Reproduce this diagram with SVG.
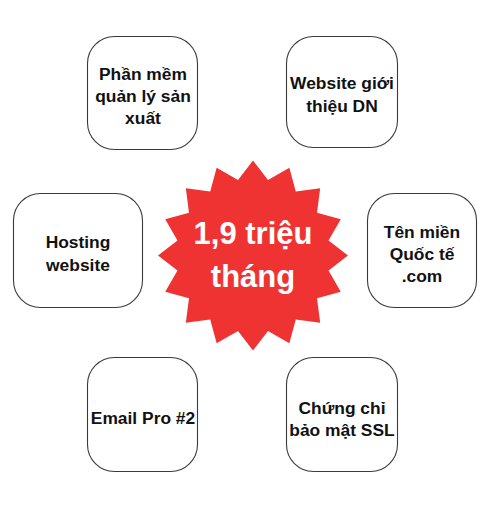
<svg xmlns="http://www.w3.org/2000/svg" width="491" height="511" viewBox="0 0 491 511">
<style>
.box{fill:#ffffff;stroke:#3a3a3a;stroke-width:1.1}
.lbl{font-family:"Liberation Sans",Arial,sans-serif;font-weight:bold;font-size:17.4px;fill:#111111;text-anchor:middle}
.big{font-family:"Liberation Sans",Arial,sans-serif;font-weight:bold;font-size:31px;fill:#ffffff;text-anchor:middle}
</style>
<rect width="491" height="511" fill="#ffffff"/>
<g id="connectors"></g>
<g id="star">
<polygon fill="#EF3333" points="253,160.5 268.02,179.98 289.35,167.73 295.78,191.48 320.18,188.32 317.02,212.72 340.77,219.15 328.52,240.48 348,255.5 328.52,270.52 340.77,291.85 317.02,298.28 320.18,322.68 295.78,319.52 289.35,343.27 268.02,331.02 253,350.5 237.98,331.02 216.65,343.27 210.22,319.52 185.82,322.68 188.98,298.28 165.23,291.85 177.48,270.52 158,255.5 177.48,240.48 165.23,219.15 188.98,212.72 185.82,188.32 210.22,191.48 216.65,167.73 237.98,179.98"/>
<text class="big" x="253" y="244">1,9 triệu</text>
<text class="big" x="253" y="287">tháng</text>
</g>
<g id="n1"><rect class="box" x="87.5" y="36.5" width="110" height="113" rx="27"/>
<text class="lbl" x="143" y="80">Phần mềm</text>
<text class="lbl" x="143" y="102">quản lý sản</text>
<text class="lbl" x="143" y="124">xuất</text></g>
<g id="n2"><rect class="box" x="286.5" y="36.5" width="111" height="111" rx="27"/>
<text class="lbl" x="342" y="89">Website giới</text>
<text class="lbl" x="342" y="112">thiệu DN</text></g>
<g id="n3"><rect class="box" x="13.5" y="193.5" width="129" height="114" rx="27"/>
<text class="lbl" x="78" y="248">Hosting</text>
<text class="lbl" x="78" y="271">website</text></g>
<g id="n4"><rect class="box" x="367.5" y="193.5" width="109" height="114" rx="27"/>
<text class="lbl" x="422" y="238">Tên miền</text>
<text class="lbl" x="422" y="260">Quốc tế</text>
<text class="lbl" x="422" y="282">.com</text></g>
<g id="n5"><rect class="box" x="87.5" y="357.5" width="110" height="114" rx="27"/>
<text class="lbl" x="143" y="424">Email Pro #2</text></g>
<g id="n6"><rect class="box" x="286.5" y="357.5" width="111" height="114" rx="27"/>
<text class="lbl" x="342" y="414">Chứng chỉ</text>
<text class="lbl" x="342" y="436">bảo mật SSL</text></g>
</svg>
